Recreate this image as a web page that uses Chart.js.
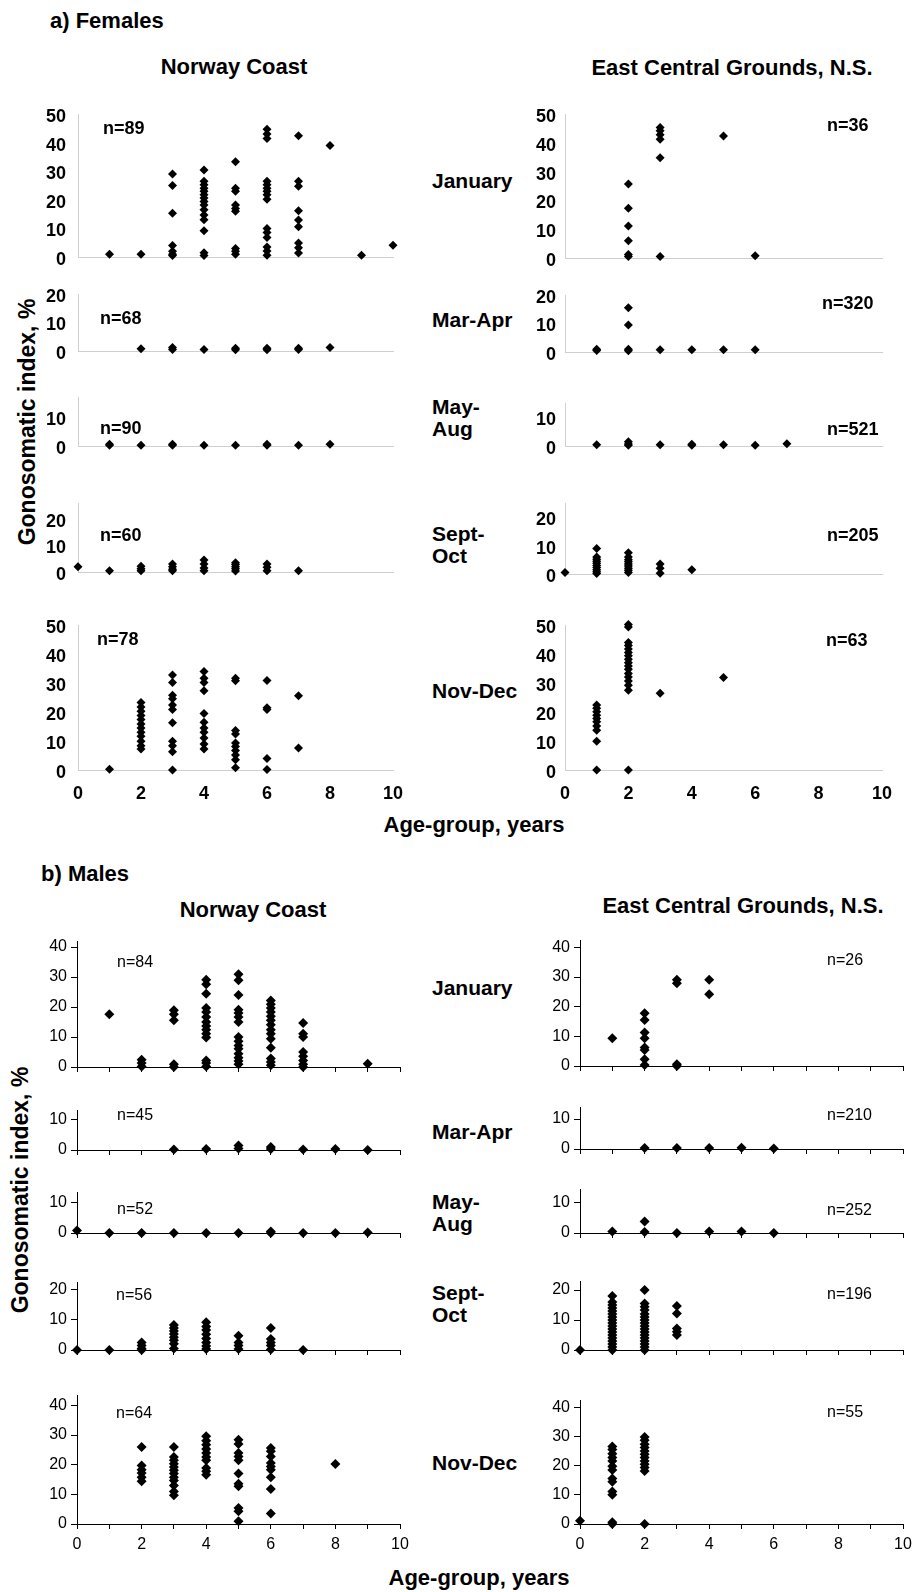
<!DOCTYPE html>
<html>
<head>
<meta charset="utf-8">
<script src="https://cdn.jsdelivr.net/npm/chart.js@4.4.1/dist/chart.umd.min.js"></script>
<style>
  html, body { margin: 0; padding: 0; background: #fff; }
  #page { position: relative; width: 912px; height: 1592px; overflow: hidden;
          font-family: "Liberation Sans", Arial, sans-serif; color: #000; }
  #page canvas { position: absolute; }
  .t { position: absolute; white-space: pre; line-height: 1; }
</style>
</head>
<body>
<div id="page"></div>
<script>
// ---------- data ----------
const ageTicks = [0, 2, 4, 6, 8, 10];
const seasons = ['January', 'Mar-Apr', 'May-\nAug', 'Sept-\nOct', 'Nov-Dec'];

// sample sizes per season
const femaleNorwayN = [89, 68, 90, 60, 78];
const femaleEcgN    = [36, 320, 521, 205, 63];
const maleNorwayN   = [84, 45, 52, 56, 64];
const maleEcgN      = [26, 210, 252, 196, 55];

// gonosomatic index (%) by age group: [age, [values]]
const fNorwayJan = [
  [1, [1]], [2, [1]],
  [3, [29, 25, 15.3, 4, 2, 1, 0.5]],
  [4, [30.4, 26.5, 25.3, 24, 23, 21.8, 20.6, 19.4, 18.2, 16.5, 14.7, 13, 9.2, 1.5, 0.5]],
  [5, [33.3, 24, 23, 18.2, 17, 16, 3, 2, 1]],
  [6, [44.7, 43, 41.4, 26.5, 25.3, 24, 23, 21.8, 20.2, 10, 8.6, 6.8, 3.5, 2.1, 0.6]],
  [7, [42.4, 26.5, 24.7, 16.2, 12.9, 10.6, 4.9, 3.2, 1.4]],
  [8, [39]], [9, [0.6]], [10, [4.1]]
];
const fNorwayMarApr = [[2, [0.8]], [3, [1.2, 0.5]], [4, [0.5]], [5, [1, 0.4]], [6, [1, 0.4]], [7, [1, 0.5]], [8, [1.2]]];
const fNorwayMayAug = [[1, [0.3, 0.6]], [2, [0.3]], [3, [0.3, 0.6]], [4, [0.3]], [5, [0.3]], [6, [0.3, 0.6]], [7, [0.3]], [8, [0.6]]];
const fNorwaySepOct = [[0, [2]], [1, [0.5]], [2, [2.2, 1.2, 0.5]], [3, [3, 2, 1, 0.5]], [4, [4.5, 3, 1.5, 0.5]],
  [5, [3.5, 2.8, 2, 1.2, 0.4]], [6, [3, 1.8, 0.5]], [7, [0.5]]];
const fNorwayNovDec = [
  [1, [0.3]],
  [2, [23.3, 21.7, 20.3, 18.8, 17.4, 15.9, 14.5, 13, 11.6, 9.9, 8.4, 7.2]],
  [3, [32.8, 30.2, 25.8, 24.6, 22.4, 20.9, 16.3, 9.9, 8.4, 6.3, 0]],
  [4, [34, 31.6, 30.2, 27.3, 19.5, 16.5, 14.5, 13, 11, 9, 7.2]],
  [5, [31.6, 30.8, 13.6, 12.4, 9.3, 8.1, 6.7, 5.2, 3.5, 0.8]],
  [6, [30.9, 21.5, 20.9, 4, 0.2]],
  [7, [25.6, 7.6]]
];

const fEcgJan = [[2, [25.7, 17.3, 11.1, 6, 1.2, 0.5]], [3, [45.3, 44.2, 42.8, 41.2, 34.8, 0.5]], [5, [42.4]], [6, [0.8]]];
const fEcgMarApr = [[1, [1, 0.5]], [2, [15.5, 9.5, 1, 0.4]], [3, [0.8]], [4, [0.8]], [5, [0.8]], [6, [0.8]]];
const fEcgMayAug = [[1, [0.4]], [2, [1.5, 0.7, 0.3]], [3, [0.4]], [4, [0.6, 0.3]], [5, [0.4]], [6, [0.3]], [7, [0.8]]];
const fEcgSepOct = [[0, [0.5]], [1, [9, 6, 5.2, 4.5, 3.8, 3, 2.3, 1.5, 0.8, 0.2]],
  [2, [7.5, 6, 5, 4.3, 3.5, 2.8, 2, 1.3, 0.5]], [3, [3.5, 2, 0.3]], [4, [1.5]]];
const fEcgNovDec = [
  [1, [22.4, 21.3, 20.1, 18.9, 17.8, 16.6, 15.2, 13.7, 9.9, 0]],
  [2, [50.2, 49.3, 44, 42.9, 41.7, 40.5, 39.4, 38.2, 37, 35.9, 34.7, 33.3, 32.1, 30.7, 29.2, 27.5, 0]],
  [3, [26.5]], [5, [31.9]]
];

const mNorwayJan = [
  [1, [17.6]],
  [2, [2.4, 1.3, 0.2]],
  [3, [18.9, 17.6, 15.6, 0.9, 0]],
  [4, [29.1, 27.6, 24.4, 19.7, 18.3, 16.7, 15, 13.7, 12.4, 11.1, 9.8, 2.2, 1.3, 0.2]],
  [5, [30.9, 28.9, 24, 19.1, 18, 16.7, 15, 10, 8.6, 7.2, 6.1, 4.4, 3.1, 2, 0.9]],
  [6, [22.2, 20.9, 19.7, 18.3, 16.9, 15.6, 14.1, 12.4, 11.1, 9.4, 6.4, 2.8, 1.7, 0.6]],
  [7, [14.7, 11.1, 10, 5, 3.6, 2.2, 0.9, 0]],
  [9, [1.1]]
];
const mNorwayMarApr = [[3, [0.2]], [4, [0.3]], [5, [1.5, 0.5]], [6, [1, 0.3]], [7, [0.2]], [8, [0.3]], [9, [0]]];
const mNorwayMayAug = [[0, [0.8]], [1, [0]], [2, [0]], [3, [0]], [4, [0]], [5, [0]], [6, [0.5, 0]], [7, [0]], [8, [0]], [9, [0.2]]];
const mNorwaySepOct = [[0, [0]], [1, [0]], [2, [2.5, 1.5, 0.5, 0]], [3, [8.3, 7.3, 6.3, 5.3, 4.2, 3.2, 2.1, 0.5]],
  [4, [9.2, 7.8, 6.6, 5.2, 3.8, 2.5, 1.3, 0.3]], [5, [4.7, 2.5, 1.5, 0.3]], [6, [7.3, 3.6, 2.5, 1.5, 0.2]], [7, [0]]];
const mNorwayNovDec = [
  [2, [26, 19.7, 18.3, 17.2, 15.8, 14.4]],
  [3, [26, 22.6, 21.5, 20.3, 19.2, 18.1, 17, 15.8, 14.7, 13, 11, 9.7]],
  [4, [29.6, 28.1, 26.7, 25.3, 23.9, 22.6, 21.5, 18.9, 17.8, 16.6]],
  [5, [28.4, 27, 23.9, 22.8, 21.5, 17, 13.6, 12.7, 5.4, 4.3, 0.9]],
  [6, [25.6, 24.5, 22.8, 20.6, 19.4, 18.3, 15.8, 11.8, 3.5]],
  [8, [20.2]]
];

const mEcgJan = [[1, [9.4]], [2, [17.8, 15.5, 11.3, 9.4, 6.2, 5.4, 2.3, 0.3]], [3, [29.1, 27.9, 0.6, 0]], [4, [29.1, 24.2]]];
const mEcgMarApr = [[2, [0.3]], [3, [0.3]], [4, [0.3]], [5, [0.4]], [6, [0.2]]];
const mEcgMayAug = [[1, [0.5]], [2, [3.8, 0.3]], [3, [0]], [4, [0.5]], [5, [0.5]], [6, [0]]];
const mEcgSepOct = [[0, [0]],
  [1, [18, 16, 15, 14, 13, 12, 11, 10, 9, 8, 7, 6, 5, 4, 3, 2, 1, 0]],
  [2, [20, 15.5, 14.4, 13.3, 12, 11, 10, 9, 8, 7, 6, 5, 4, 3, 2, 1, 0]],
  [3, [14.7, 12.2, 7.2, 6.1, 5]]];
const mEcgNovDec = [[0, [1.1]],
  [1, [26.6, 25.5, 24.1, 22.8, 21.6, 19.8, 18.5, 15.6, 14.5, 11.1, 10, 0.6, 0]],
  [2, [29.8, 28.7, 27.3, 26.2, 25, 23.9, 22.8, 21.6, 20.5, 19.4, 18.2, 0]]];

const femaleNorway = [fNorwayJan, fNorwayMarApr, fNorwayMayAug, fNorwaySepOct, fNorwayNovDec];
const femaleEcg    = [fEcgJan, fEcgMarApr, fEcgMayAug, fEcgSepOct, fEcgNovDec];
const maleNorway   = [mNorwayJan, mNorwayMarApr, mNorwayMayAug, mNorwaySepOct, mNorwayNovDec];
const maleEcg      = [mEcgJan, mEcgMarApr, mEcgMayAug, mEcgSepOct, mEcgNovDec];

// ---------- page layout ----------
const page = document.getElementById('page');
const FONT = '"Liberation Sans", Arial, sans-serif';

// horizontal extent of each column of panels (pixel of age 0 and age 10)
const columns = {
  fL: { x0: 78,  x10: 393 },
  fR: { x0: 565, x10: 882 },
  mL: { x0: 77,  x10: 400 },
  mR: { x0: 580, x10: 903 }
};
// vertical frame of each row: pixel of 0 %, pixel of axis top, axis maximum
const rows = {
  fL: [[257, 114, 50], [351, 294, 20], [446, 397, 17], [572, 503, 26], [770, 625, 50]],
  fR: [[258, 114, 50], [352, 295, 20], [446, 403, 15], [574, 503, 25], [770, 625, 50]],
  mL: [[1067, 941, 42], [1150, 1110, 13], [1233, 1192, 13.5], [1350, 1282, 22.5], [1524, 1395, 43.5]],
  mR: [[1066, 940, 42.5], [1149, 1107, 14], [1233, 1189, 14.5], [1350, 1281, 23], [1524, 1400, 42.5]]
};
// "n=" label anchors (left edge, vertical centre)
const nAnchors = {
  fL: [[103, 128], [100, 318], [100, 428], [100, 535], [97, 639]],
  fR: [[827, 125], [822, 303], [827, 429], [827, 535], [826, 640]],
  mL: [[117, 962], [117, 1115], [117, 1209], [116, 1295], [116, 1413]],
  mR: [[827, 960], [827, 1115], [827, 1210], [827, 1294], [827, 1412]]
};

function addText(str, x, y, opts) {
  const d = document.createElement('div');
  d.className = 't';
  d.textContent = str;
  d.style.left = x + 'px';
  d.style.top = y + 'px';
  d.style.fontSize = (opts.size || 16) + 'px';
  d.style.fontWeight = opts.bold ? 'bold' : 'normal';
  if (opts.lineHeight) d.style.lineHeight = opts.lineHeight + 'px';
  const tr = opts.align === 'center' ? 'translate(-50%,-50%)' : 'translateY(-50%)';
  d.style.transform = tr + (opts.rotate ? ' rotate(' + opts.rotate + 'deg)' : '');
  page.appendChild(d);
}

function toPoints(cols) {
  const pts = [];
  cols.forEach(([age, vals]) => vals.forEach(v => pts.push({ x: age, y: v })));
  return pts;
}

function makePanel(colKey, rowIdx, cols, male) {
  const { x0, x10 } = columns[colKey];
  const [zero, top, max] = rows[colKey][rowIdx];
  const bottomRow = rowIdx === 4;
  const LW = 70, PT = 14, PR = 22, BH = 44;
  const W = (x10 - x0) + LW + PR;
  const H = (zero - top) + PT + BH;
  const cv = document.createElement('canvas');
  cv.width = W; cv.height = H;
  cv.style.width = W + 'px'; cv.style.height = H + 'px';
  cv.style.left = (x0 - LW) + 'px';
  cv.style.top = (top - PT) + 'px';
  page.appendChild(cv);

  const tickFont = male ? { family: FONT, size: 16 } : { family: FONT, size: 18, weight: 'bold' };
  const border = male
    ? { display: true, color: '#000', width: 1 }
    : { display: true, color: '#cfcfcf', width: 1, dash: [2, 2] };

  new Chart(cv, {
    type: 'scatter',
    data: {
      datasets: [{
        data: toPoints(cols),
        pointStyle: 'rectRot',
        pointRadius: male ? 5 : 4.5,
        pointHoverRadius: male ? 5 : 4.5,
        pointBackgroundColor: '#000',
        pointBorderColor: '#000',
        pointBorderWidth: 0,
        clip: false
      }]
    },
    options: {
      responsive: false,
      animation: false,
      devicePixelRatio: 1,
      events: [],
      layout: { padding: { top: PT, right: PR, left: 0, bottom: 0 } },
      plugins: { legend: { display: false }, tooltip: { enabled: false } },
      scales: {
        x: {
          type: 'linear', min: 0, max: 10,
          afterFit: s => { s.height = BH; s.paddingLeft = 0; s.paddingRight = 0; },
          border: border,
          grid: { drawOnChartArea: false, drawTicks: male, tickLength: 5, color: '#000' },
          ticks: {
            display: male || bottomRow,
            stepSize: male ? 1 : 2,
            autoSkip: false, maxRotation: 0, minRotation: 0,
            padding: male ? 6 : 13,
            color: '#000',
            font: tickFont,
            callback: v => (bottomRow && ageTicks.includes(v)) ? String(v) : ''
          }
        },
        y: {
          type: 'linear', min: 0, max: max,
          afterFit: s => { s.width = LW; s.paddingTop = 0; s.paddingBottom = 0; },
          border: border,
          grid: { drawOnChartArea: false, drawTicks: male, tickLength: 6, color: '#000' },
          ticks: {
            stepSize: 10, includeBounds: false,
            padding: male ? 4 : (colKey === 'fR' ? 9 : 12),
            labelOffset: male ? 0 : 3,
            color: '#000',
            font: tickFont
          }
        }
      }
    }
  });
}

// ---------- headings ----------
addText('a) Females', 50, 21, { size: 22, bold: true });
addText('Norway Coast', 234, 67, { size: 22, bold: true, align: 'center' });
addText('East Central Grounds, N.S.', 732, 68, { size: 22, bold: true, align: 'center' });
addText('b) Males', 41, 874, { size: 22, bold: true });
addText('Norway Coast', 253, 910, { size: 22, bold: true, align: 'center' });
addText('East Central Grounds, N.S.', 743, 906, { size: 22, bold: true, align: 'center' });

addText('Gonosomatic index, %', 27, 422, { size: 23, bold: true, align: 'center', rotate: -90 });
addText('Gonosomatic index, %', 20, 1190, { size: 23, bold: true, align: 'center', rotate: -90 });
addText('Age-group, years', 474, 825, { size: 22, bold: true, align: 'center' });
addText('Age-group, years', 479, 1578, { size: 22, bold: true, align: 'center' });

// season labels between the two columns
const seasonY = { female: [181, 320, 418, 545, 691], male: [988, 1132, 1213, 1304, 1463] };
seasons.forEach((s, i) => {
  addText(s, 432, seasonY.female[i], { size: 21, bold: true, lineHeight: 22 });
  addText(s, 432, seasonY.male[i], { size: 21, bold: true, lineHeight: 22 });
});

// ---------- panels ----------
const groups = [
  { key: 'fL', sets: femaleNorway, n: femaleNorwayN, male: false },
  { key: 'fR', sets: femaleEcg,    n: femaleEcgN,    male: false },
  { key: 'mL', sets: maleNorway,   n: maleNorwayN,   male: true },
  { key: 'mR', sets: maleEcg,      n: maleEcgN,      male: true }
];
groups.forEach(g => {
  g.sets.forEach((cols, i) => {
    makePanel(g.key, i, cols, g.male);
    const [nx, ny] = nAnchors[g.key][i];
    addText('n=' + g.n[i], nx, ny, g.male ? { size: 16 } : { size: 18, bold: true });
  });
});
</script>
</body>
</html>
